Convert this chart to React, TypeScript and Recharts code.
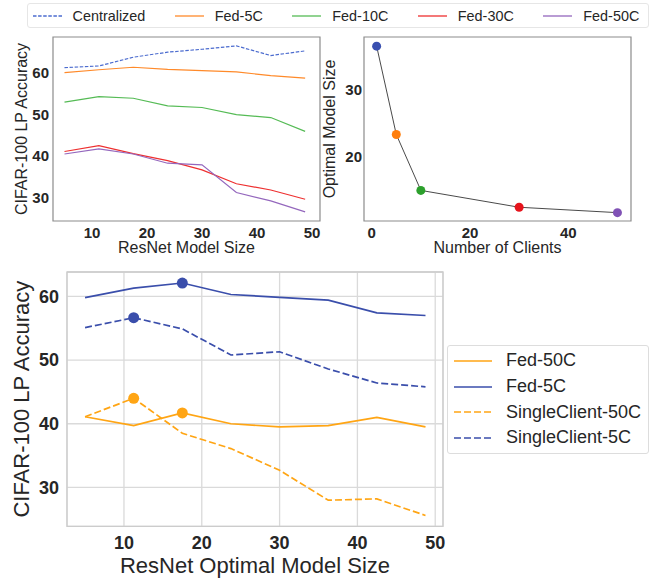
import React from "react";
import { CartesianGrid, Line, LineChart, ReferenceArea, XAxis, YAxis } from "recharts";

const FONT = "'Liberation Sans', Arial, sans-serif";
const INK = "#262626";

// ResNet sizes shared by both accuracy panels
const sizes = [5, 11.25, 17.5, 23.75, 30, 36.25, 42.5, 48.75];

// top-left: accuracy vs model size
const centralized = [61.1, 61.5, 63.6, 64.8, 65.5, 66.3, 64.0, 65.1];
const fed5 = [59.9, 60.6, 61.2, 60.7, 60.4, 60.1, 59.2, 58.6];
const fed10 = [52.9, 54.2, 53.8, 52.0, 51.6, 49.9, 49.2, 45.9];
const fed30 = [41.1, 42.5, 40.6, 38.9, 36.7, 33.4, 31.9, 29.7];
const fed50 = [40.5, 41.7, 40.5, 38.3, 37.9, 31.3, 29.3, 26.7];

// top-right: optimal model size vs number of clients
const clients = [1, 5, 10, 30, 50];
const optimalSize = [36.4, 23.3, 15.0, 12.5, 11.7];

// bottom: fed vs single client
const fed50Opt = [41.1, 39.7, 41.7, 40.0, 39.5, 39.7, 41.0, 39.5];
const fed5Opt = [59.8, 61.3, 62.1, 60.3, 59.85, 59.4, 57.4, 57.0];
const single50 = [41.1, 44.0, 38.5, 36.1, 32.7, 28.0, 28.2, 25.6];
const single5 = [55.1, 56.65, 54.9, 50.8, 51.3, 48.6, 46.4, 45.8];

const topSeries = [
  { key: "centralized", label: "Centralized", color: "#4c6ccf", dash: "3.5 1.6", values: centralized },
  { key: "fed5", label: "Fed-5C", color: "#ff8a2a", dash: undefined, values: fed5 },
  { key: "fed10", label: "Fed-10C", color: "#55bb55", dash: undefined, values: fed10 },
  { key: "fed30", label: "Fed-30C", color: "#ee2f2f", dash: undefined, values: fed30 },
  { key: "fed50", label: "Fed-50C", color: "#9467bd", dash: undefined, values: fed50 },
];
const clientColors = ["#3a50b0", "#ff7f0e", "#2ca02c", "#e6141c", "#8052b5"];

const BLUE = "#3a4eab";
const ORANGE = "#ffa514";
const bottomSeries = [
  { key: "fed50", label: "Fed-50C", color: ORANGE, dash: undefined, values: fed50Opt },
  { key: "fed5", label: "Fed-5C", color: BLUE, dash: undefined, values: fed5Opt },
  { key: "single50", label: "SingleClient-50C", color: ORANGE, dash: "7 3", values: single50 },
  { key: "single5", label: "SingleClient-5C", color: BLUE, dash: "7 3", values: single5 },
];

const topRows = sizes.map((size, i) => {
  const row: Record<string, number> = { size };
  topSeries.forEach((s) => (row[s.key] = s.values[i]));
  return row;
});
const clientRows = clients.map((n, i) => ({ n, opt: optimalSize[i] }));
const bottomRows = sizes.map((size, i) => {
  const row: Record<string, number> = { size };
  bottomSeries.forEach((s) => (row[s.key] = s.values[i]));
  return row;
});

const argmax = (v: number[]) => v.indexOf(Math.max(...v));

const TICK_SM = { fontSize: 15, fontWeight: 700, fill: INK, fontFamily: FONT };
const TICK_LG = { fontSize: 18, fontWeight: 700, fill: INK, fontFamily: FONT };
const LABEL_SM = { fontSize: 16, fill: INK, fontFamily: FONT, textAnchor: "middle" as const };
const LABEL_LG = { fontSize: 22, fill: INK, fontFamily: FONT, textAnchor: "middle" as const };

const TL_X: [number, number] = [2.91, 51.45];
const TL_Y: [number, number] = [24.51, 68.42];
const TR_X: [number, number] = [-1.57, 52.76];
const TR_Y: [number, number] = [10.46, 37.76];
const B_X: [number, number] = [2.68, 51.0];
const B_Y: [number, number] = [23.88, 63.83];

function TopLegend() {
  return (
    <div
      style={{
        position: "absolute",
        left: 27,
        top: 3,
        width: 622,
        height: 25,
        boxSizing: "border-box",
        border: "1px solid #e6e6e6",
        borderRadius: 3,
        display: "flex",
        alignItems: "center",
        gap: 29.5,
        paddingLeft: 4.5,
        fontFamily: FONT,
        fontSize: 14.4,
        color: INK,
      }}
    >
      {topSeries.map((s) => (
        <div key={s.key} style={{ display: "flex", alignItems: "center" }}>
          <svg width={29} height={4} style={{ marginRight: 11 }}>
            <line x1={0} y1={2} x2={29} y2={2} stroke={s.color} strokeWidth={1.3} strokeDasharray={s.dash} />
          </svg>
          <span>{s.label}</span>
        </div>
      ))}
    </div>
  );
}

function BottomLegend() {
  return (
    <div
      style={{
        position: "absolute",
        left: 447,
        top: 345,
        width: 202,
        height: 109,
        boxSizing: "border-box",
        border: "1px solid #dddddd",
        borderRadius: 3,
        paddingTop: 2,
        fontFamily: FONT,
        fontSize: 18,
        color: INK,
      }}
    >
      {bottomSeries.map((s) => (
        <div key={s.key} style={{ display: "flex", alignItems: "center", height: 25.7, paddingLeft: 6 }}>
          <svg width={38} height={4} style={{ marginRight: 14 }}>
            <line x1={0} y1={2} x2={38} y2={2} stroke={s.color} strokeWidth={1.7} strokeDasharray={s.dash} />
          </svg>
          <span>{s.label}</span>
        </div>
      ))}
    </div>
  );
}

export default function App() {
  return (
    <div style={{ position: "absolute", left: 0, top: 0, width: 657, height: 581, background: "#fff" }}>
      <TopLegend />

      <div style={{ position: "absolute", left: 0, top: 30 }}>
        <LineChart width={330} height={230} data={topRows} margin={{ top: 7, right: 10, bottom: 0, left: 0 }}>
          <XAxis
            type="number"
            dataKey="size"
            domain={TL_X}
            ticks={[10, 20, 30, 40, 50]}
            tick={TICK_SM}
            tickLine={false}
            axisLine={false}
            tickSize={6}
            tickMargin={0}
            height={39}
            label={{ value: "ResNet Model Size", position: "insideBottom", offset: 7, style: LABEL_SM }}
          />
          <YAxis
            type="number"
            domain={TL_Y}
            ticks={[30, 40, 50, 60]}
            tick={TICK_SM}
            tickLine={false}
            axisLine={false}
            tickSize={4}
            tickMargin={0}
            width={53}
            label={{ value: "CIFAR-100 LP Accuracy", angle: -90, position: "insideLeft", offset: 21, style: LABEL_SM }}
          />
          <ReferenceArea x1={TL_X[0]} x2={TL_X[1]} y1={TL_Y[0]} y2={TL_Y[1]} fill="none" stroke="#8c8c8c" strokeWidth={1.2} />
          {topSeries.map((s) => (
            <Line
              key={s.key}
              dataKey={s.key}
              type="linear"
              stroke={s.color}
              strokeWidth={1.2}
              strokeDasharray={s.dash}
              dot={false}
              activeDot={false}
              isAnimationActive={false}
            />
          ))}
        </LineChart>
      </div>

      <div style={{ position: "absolute", left: 315, top: 30 }}>
        <LineChart width={342} height={230} data={clientRows} margin={{ top: 7, right: 26, bottom: 0, left: 0 }}>
          <XAxis
            type="number"
            dataKey="n"
            domain={TR_X}
            ticks={[0, 20, 40]}
            tick={TICK_SM}
            tickLine={false}
            axisLine={false}
            tickSize={6}
            tickMargin={0}
            height={39}
            label={{ value: "Number of Clients", position: "insideBottom", offset: 7, style: LABEL_SM }}
          />
          <YAxis
            type="number"
            domain={TR_Y}
            ticks={[20, 30]}
            tick={TICK_SM}
            tickLine={false}
            axisLine={false}
            tickSize={2}
            tickMargin={0}
            width={49}
            label={{ value: "Optimal Model Size", angle: -90, position: "insideLeft", offset: 14, style: LABEL_SM }}
          />
          <ReferenceArea x1={TR_X[0]} x2={TR_X[1]} y1={TR_Y[0]} y2={TR_Y[1]} fill="none" stroke="#8c8c8c" strokeWidth={1.2} />
          <Line
            dataKey="opt"
            type="linear"
            stroke="#4a4a4a"
            strokeWidth={1}
            activeDot={false}
            isAnimationActive={false}
            dot={(p: any) => (
              <circle key={`c-${p.index}`} cx={p.cx} cy={p.cy} r={4.5} fill={clientColors[p.index]} stroke="none" />
            )}
          />
        </LineChart>
      </div>

      <div style={{ position: "absolute", left: 0, top: 262 }}>
        <LineChart width={450} height={319} data={bottomRows} margin={{ top: 10, right: 7, bottom: 0, left: 0 }}>
          <CartesianGrid stroke="#dadada" strokeWidth={1.3} />
          <XAxis
            type="number"
            dataKey="size"
            domain={B_X}
            ticks={[10, 20, 30, 40, 50]}
            tick={TICK_LG}
            tickLine={false}
            axisLine={false}
            tickSize={6}
            tickMargin={4}
            height={54.6}
            label={{ value: "ResNet Optimal Model Size", position: "insideBottom", offset: 8, style: LABEL_LG }}
          />
          <YAxis
            type="number"
            domain={B_Y}
            ticks={[30, 40, 50, 60]}
            tick={TICK_LG}
            tickLine={false}
            axisLine={false}
            width={67}
            label={{ value: "CIFAR-100 LP Accuracy", angle: -90, position: "insideLeft", offset: 21, style: LABEL_LG }}
          />
          <ReferenceArea x1={B_X[0]} x2={B_X[1]} y1={B_Y[0]} y2={B_Y[1]} fill="none" stroke="#cccccc" strokeWidth={1.3} />
          {bottomSeries.map((s) => {
            const best = argmax(s.values);
            return (
              <Line
                key={s.key}
                dataKey={s.key}
                type="linear"
                stroke={s.color}
                strokeWidth={1.7}
                strokeDasharray={s.dash}
                activeDot={false}
                isAnimationActive={false}
                dot={(p: any) =>
                  p.index === best ? (
                    <circle key={`${s.key}-${p.index}`} cx={p.cx} cy={p.cy} r={5.5} fill={s.color} stroke="none" />
                  ) : (
                    <g key={`${s.key}-${p.index}`} />
                  )
                }
              />
            );
          })}
        </LineChart>
      </div>

      <BottomLegend />
    </div>
  );
}
